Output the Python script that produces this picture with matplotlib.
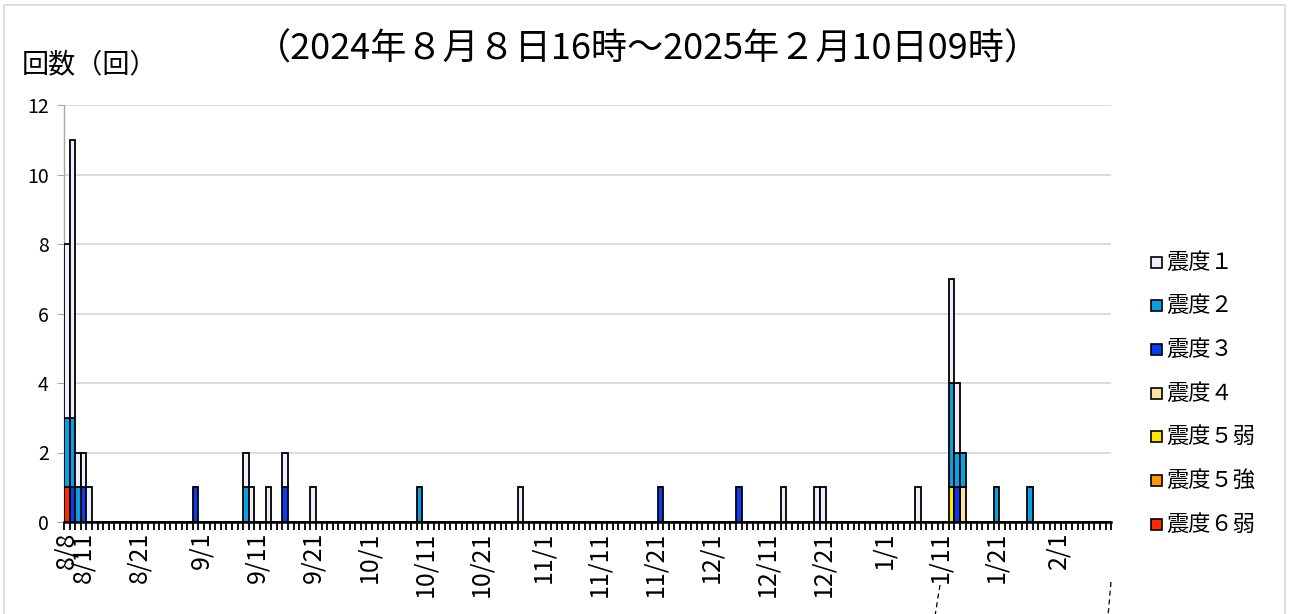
import numpy as np
import pandas as pd
import matplotlib
matplotlib.use("Agg")
import matplotlib.pyplot as plt
from matplotlib.patches import Rectangle
from matplotlib.lines import Line2D

plt.rcParams['font.family'] = ['Noto Sans CJK JP', 'DejaVu Sans']

# Observation period (one bar slot per day)
period_start = "2024-08-08"
period_end = "2025-02-10"

# Days on which at least one earthquake was felt
event_dates = ["2024-08-08", "2024-08-09", "2024-08-10", "2024-08-11", "2024-08-12",
               "2024-08-31", "2024-09-09", "2024-09-10", "2024-09-13", "2024-09-16",
               "2024-09-21", "2024-10-10", "2024-10-28", "2024-11-22", "2024-12-06",
               "2024-12-14", "2024-12-20", "2024-12-21", "2025-01-07", "2025-01-13",
               "2025-01-14", "2025-01-15", "2025-01-21", "2025-01-27"]

# Daily counts per maximum seismic intensity (same order as event_dates)
shindo_1 = [5, 8, 1, 1, 1, 0, 1, 1, 1, 1, 1, 0, 1, 0, 0, 1, 1, 1, 1, 3, 2, 0, 0, 0]
shindo_2 = [2, 2, 1, 0, 0, 0, 1, 0, 0, 0, 0, 1, 0, 0, 0, 0, 0, 0, 0, 3, 1, 1, 1, 1]
shindo_3 = [0, 1, 0, 1, 0, 1, 0, 0, 0, 1, 0, 0, 0, 1, 1, 0, 0, 0, 0, 0, 1, 0, 0, 0]
shindo_4 = [0, 0, 0, 0, 0, 0, 0, 0, 0, 0, 0, 0, 0, 0, 0, 0, 0, 0, 0, 0, 0, 1, 0, 0]
shindo_5l = [0, 0, 0, 0, 0, 0, 0, 0, 0, 0, 0, 0, 0, 0, 0, 0, 0, 0, 0, 1, 0, 0, 0, 0]
shindo_5u = [0, 0, 0, 0, 0, 0, 0, 0, 0, 0, 0, 0, 0, 0, 0, 0, 0, 0, 0, 0, 0, 0, 0, 0]
shindo_6l = [1, 0, 0, 0, 0, 0, 0, 0, 0, 0, 0, 0, 0, 0, 0, 0, 0, 0, 0, 0, 0, 0, 0, 0]

level_names = ["震度１", "震度２", "震度３", "震度４", "震度５弱", "震度５強", "震度６弱"]
level_colors = ["#EEEEFC", "#0AA0E6", "#0A3CF5", "#FCE4A0", "#FFE600", "#FF9900", "#FF2800"]

tick_dates = ["2024-08-08", "2024-08-11", "2024-08-21", "2024-09-01", "2024-09-11",
              "2024-09-21", "2024-10-01", "2024-10-11", "2024-10-21", "2024-11-01",
              "2024-11-11", "2024-11-21", "2024-12-01", "2024-12-11", "2024-12-21",
              "2025-01-01", "2025-01-11", "2025-01-21", "2025-02-01"]
tick_labels = ["8/8", "8/11", "8/21", "9/1", "9/11", "9/21", "10/1", "10/11", "10/21",
               "11/1", "11/11", "11/21", "12/1", "12/11", "12/21", "1/1", "1/11",
               "1/21", "2/1"]

days = pd.date_range(period_start, period_end, freq="D")
n_days = len(days)
x = np.arange(n_days)


def to_daily(values):
    s = pd.Series(0.0, index=days)
    s.loc[pd.to_datetime(event_dates)] = values
    return s.values


series = [to_daily(v) for v in
          [shindo_1, shindo_2, shindo_3, shindo_4, shindo_5l, shindo_5u, shindo_6l]]

W, H = 1291, 614
fig = plt.figure(figsize=(W / 100, H / 100), dpi=100)

# outer frame of the chart area
fig.add_artist(Rectangle((4 / W, -0.05), 1281 / W, 1 - 5 / H + 0.05,
                         transform=fig.transFigure, fill=False,
                         edgecolor="#D9D9D9", linewidth=1.2))

ax = fig.add_axes([64 / W, (H - 522) / H, 1047.2 / W, 417 / H])

# stack from the strongest intensity at the bottom up to 震度１ on top
bottom = np.zeros(n_days)
for idx in range(len(series) - 1, -1, -1):
    vals = series[idx]
    ax.bar(x, vals, width=1.0, bottom=bottom, color=level_colors[idx],
           edgecolor="black", linewidth=1.3, zorder=3)
    bottom = bottom + vals

ax.set_xlim(-0.5, n_days - 0.5)
ax.set_ylim(0, 12)
ax.set_yticks(np.arange(0, 13, 2))
ax.yaxis.grid(True, color="#D9D9D9", linewidth=1.3)
ax.set_axisbelow(True)

for side in ("top", "right"):
    ax.spines[side].set_visible(False)
ax.spines["left"].set_color("#A6A6A6")
ax.spines["left"].set_linewidth(1.0)
ax.spines["bottom"].set_color("black")
ax.spines["bottom"].set_linewidth(1.8)
ax.spines["bottom"].set_zorder(4)

ax.tick_params(axis="y", direction="out", length=5, color="#A6A6A6",
               labelsize=14, pad=6)

tick_pos = [days.get_loc(pd.Timestamp(d)) for d in tick_dates]
ax.set_xticks(tick_pos)
ax.set_xticklabels(tick_labels, rotation=90, fontsize=18)
ax.set_xticks(np.arange(-0.5, n_days, 1.0), minor=True)
ax.tick_params(axis="x", which="major", length=0, pad=7)
ax.tick_params(axis="x", which="minor", direction="out", length=5.5, width=1.3,
               color="black")

fig.text(0.502, 1 - 50 / H, "（2024年８月８日16時～2025年２月10日09時）",
         ha="center", va="center", fontsize=26)
fig.text(22 / W, 1 - 65 / H, "回数（回）", ha="left", va="center", fontsize=19.5)

# legend: small squares with labels
for i, (name, col) in enumerate(zip(level_names, level_colors)):
    yc = 262 + i * 43.7
    fig.add_artist(Rectangle((1151 / W, 1 - (yc + 5.5) / H), 11 / W, 11 / H,
                             transform=fig.transFigure, facecolor=col,
                             edgecolor="black", linewidth=1.2))
    fig.text(1166 / W, 1 - yc / H, name, ha="left", va="center", fontsize=16)

# dashed leader lines running off the bottom edge
for (x0, y0, x1, y1) in [(940, 585, 935, 616), (1111, 582, 1108, 616)]:
    fig.add_artist(Line2D([x0 / W, x1 / W], [1 - y0 / H, 1 - y1 / H],
                          transform=fig.transFigure, color="black",
                          linewidth=0.9, linestyle=(0, (4, 3))))

fig.savefig("out.png", dpi=100)
